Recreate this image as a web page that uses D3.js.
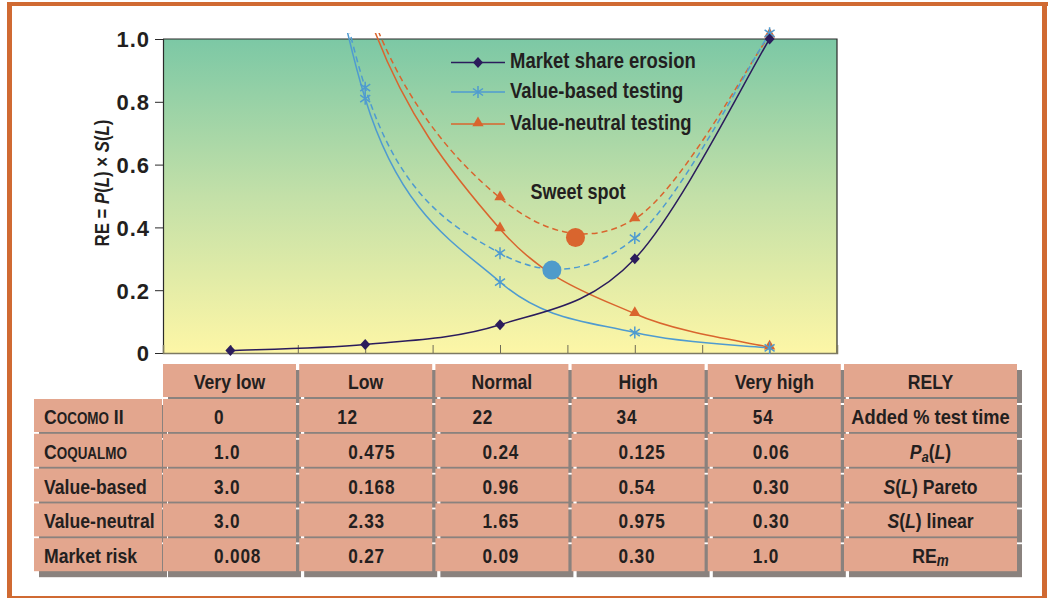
<!DOCTYPE html>
<html><head><meta charset="utf-8">
<script src="https://cdn.jsdelivr.net/npm/d3@7"></script>
<style>body{margin:0;background:#fff}svg{display:block}</style>
</head><body>
<svg id="c" width="1051" height="598"></svg>
<script>
// ---------- data ----------
const categories = ["Very low", "Low", "Normal", "High", "Very high"];
const marketShare = [0.008, 0.027, 0.09, 0.30, 1.0];
const valueBased = [3.0, 0.81, 0.226, 0.065, 0.016];
const valueBasedTotal = [3.008, 0.845, 0.318, 0.366, 1.018];
const valueNeutral = [3.0, 1.11, 0.395, 0.125, 0.018];
const valueNeutralTotal = [3.008, 1.135, 0.494, 0.427, 1.012];
const sweetSpotX = [2.385, 2.56];      // position in category units
const sweetSpotY = [0.264, 0.368];
const yTicks = [0, 0.2, 0.4, 0.6, 0.8, 1.0];
const legendLabels = ["Market share erosion", "Value-based testing", "Value-neutral testing"];
const tableHeader = ["Very low", "Low", "Normal", "High", "Very high", "RELY"];
const rowLabels = ["Cocomo II", "Coqualmo", "Value-based", "Value-neutral", "Market risk"];
const cocomoII = ["0", "12", "22", "34", "54"];
const coqualmo = ["1.0", "0.475", "0.24", "0.125", "0.06"];
const valueBasedS = ["3.0", "0.168", "0.96", "0.54", "0.30"];
const valueNeutralS = ["3.0", "2.33", "1.65", "0.975", "0.30"];
const marketRisk = ["0.008", "0.27", "0.09", "0.30", "1.0"];

// ---------- setup ----------
const F = "'Liberation Sans',Arial,sans-serif";
const SX = 0.84;  // horizontal condensing of the bold sans face
const svg = d3.select("#c");
const NAVY = "#2b1c5c", BLUE = "#4f9bd0", ORANGE = "#d9652e", TXT = "#231f20";
const SALMON = "#e3a68e", SHADOW = "#8a827e", FRAME = "#d06a32";

function T(parent, x0, y0, size, anchor, sx, rot) {
  return parent.append("text")
    .attr("transform", `translate(${x0},${y0})${rot ? ` rotate(${rot})` : ""} scale(${sx || SX},1)`)
    .attr("text-anchor", anchor || "start").attr("font-family", F).attr("font-weight", "bold")
    .attr("font-size", size).attr("fill", TXT);
}

// frame
svg.append("rect").attr("x", 7).attr("y", 2).attr("width", 1041).attr("height", 4).attr("fill", FRAME);
svg.append("rect").attr("x", 7).attr("y", 2).attr("width", 5).attr("height", 596).attr("fill", FRAME);
svg.append("rect").attr("x", 1042).attr("y", 2).attr("width", 5).attr("height", 596).attr("fill", FRAME);
svg.append("rect").attr("x", 7).attr("y", 596).attr("width", 1040).attr("height", 2).attr("fill", FRAME);

const x = d3.scaleLinear().domain([-0.5, 4.5]).range([163, 837]);
const y = d3.scaleLinear().domain([0, 1]).range([353, 39]);

const defs = svg.append("defs");
const g = defs.append("linearGradient").attr("id", "bg").attr("x1", 0).attr("y1", 0).attr("x2", 0).attr("y2", 1);
g.append("stop").attr("offset", "0%").attr("stop-color", "#7cc8a5");
g.append("stop").attr("offset", "50%").attr("stop-color", "#c3e0a8");
g.append("stop").attr("offset", "100%").attr("stop-color", "#fdf6a6");
defs.append("clipPath").attr("id", "clip").append("rect")
  .attr("x", x(-0.5)).attr("y", y(1) - 6).attr("width", x(4.5) - x(-0.5)).attr("height", y(0) - y(1) + 6);

svg.append("rect").attr("x", x(-0.5)).attr("y", y(1)).attr("width", x(4.5) - x(-0.5)).attr("height", y(0) - y(1))
  .attr("fill", "url(#bg)");
svg.append("path").attr("d", `M${x(-0.5)},${y(1)}H${x(4.5)}V${y(0)}`).attr("fill", "none").attr("stroke", "#2a2a2a").attr("stroke-width", 1.2);

// y axis
const ya = svg.append("g").attr("transform", `translate(${x(-0.5)},0)`)
  .call(d3.axisLeft(y).tickValues(yTicks).tickSize(8).tickPadding(5)
    .tickFormat(d => d === 0 ? "0" : d3.format(".1f")(d)));
ya.select(".domain").attr("stroke", "#2a2a2a").attr("stroke-width", 1.2);
ya.selectAll(".tick line").attr("stroke", "#2a2a2a");
ya.selectAll("text").attr("font-family", F).attr("font-weight", "bold").attr("font-size", 22)
  .attr("fill", TXT).attr("letter-spacing", 1).attr("dy", "0.36em");

// x axis (ticks pointing in)
const xt = d3.range(0, 9).map(i => 0.5 * i);
const xa = svg.append("g").attr("transform", `translate(0,${y(0)})`)
  .call(d3.axisBottom(x).tickValues(xt).tickSize(-8).tickFormat(""));
xa.select(".domain").attr("stroke", "#7d7a62").attr("stroke-width", 1.5);
xa.selectAll(".tick line").attr("stroke", "#6e6b58");

// y title
const yt = T(svg, 109, 183, 20, "middle", SX, -90);
[["RE = ", false], ["P", true], ["(", false], ["L", true], [") × ", false], ["S", true], ["(", false], ["L", true], [")", false]]
  .forEach(([t, it]) => yt.append("tspan").text(t).attr("font-style", it ? "italic" : "normal"));

// ---------- lines: smoothed (Catmull-Rom style Bezier through the scaled points) ----------
function smoothPath(vals) {
  const P = vals.map((v, i) => [x(i), y(v)]);
  const n = P.length;
  const m = P.map((p, i) => {
    const a = P[Math.max(0, i - 1)], b = P[Math.min(n - 1, i + 1)];
    return [(b[0] - a[0]) / 2, (b[1] - a[1]) / 2];
  });
  const p = d3.path();
  p.moveTo(P[0][0], P[0][1]);
  for (let i = 0; i < n - 1; i++) {
    // soften the outgoing handle where the previous point lies far off the chart
    const so = (i > 0 && vals[i - 1] > 1.2) ? 0.8 : 1;
    p.bezierCurveTo(P[i][0] + so * m[i][0] / 3, P[i][1] + so * m[i][1] / 3,
      P[i + 1][0] - m[i + 1][0] / 3, P[i + 1][1] - m[i + 1][1] / 3,
      P[i + 1][0], P[i + 1][1]);
  }
  return p.toString();
}
const plot = svg.append("g").attr("clip-path", "url(#clip)");
const series = [
  { v: valueNeutralTotal, c: ORANGE, dash: "6,4", m: "tri" },
  { v: valueBasedTotal, c: BLUE, dash: "6,4", m: "ast" },
  { v: valueNeutral, c: ORANGE, dash: null, m: "tri" },
  { v: valueBased, c: BLUE, dash: null, m: "ast" },
  { v: marketShare, c: NAVY, dash: null, m: "dia" }
];
series.forEach(s => {
  plot.append("path").attr("d", smoothPath(s.v)).attr("fill", "none").attr("stroke", s.c)
    .attr("stroke-width", 1.5).attr("stroke-dasharray", s.dash);
});

function marker(sel, type, c) {
  if (type === "dia") {
    sel.append("path").attr("d", "M0,-5.5L5,0L0,5.5L-5,0Z").attr("fill", c);
  } else if (type === "tri") {
    sel.append("path").attr("d", d3.symbol(d3.symbolTriangle, 55)()).attr("fill", c).attr("transform", "translate(0,-1)");
  } else {
    sel.append("path").attr("d", "M0,-6V6M-5,-3.5L5,3.5M-5,3.5L5,-3.5").attr("stroke", c)
      .attr("stroke-width", 1.5).attr("fill", "none");
  }
}
series.forEach(s => {
  s.v.forEach((v, i) => {
    if (v > 1.05) return;
    marker(svg.append("g").attr("transform", `translate(${x(i)},${y(v)})`), s.m, s.c);
  });
});

// sweet spots
svg.selectAll("circle.sweet").data(sweetSpotX).enter().append("circle").attr("class", "sweet")
  .attr("cx", d => x(d)).attr("cy", (d, i) => y(sweetSpotY[i])).attr("r", 9.5)
  .attr("fill", (d, i) => i === 0 ? "#4f9bcb" : ORANGE);
T(svg, 578, 199, 22, "middle", 0.82).text("Sweet spot");

// legend
const legY = [62.5, 92, 124];
const legC = [NAVY, BLUE, ORANGE], legM = ["dia", "ast", "tri"];
legendLabels.forEach((t, i) => {
  svg.append("line").attr("x1", 451).attr("x2", 505).attr("y1", legY[i]).attr("y2", legY[i])
    .attr("stroke", legC[i]).attr("stroke-width", 1.5);
  marker(svg.append("g").attr("transform", `translate(478,${legY[i]})`), legM[i], legC[i]);
  T(svg, 510, legY[i] + 5.5, 22, "start").text(t);
});

// ---------- table ----------
const colStep = 136.2, colW = 133, lastW = 173;
const colLeft = i => 163 + i * colStep;
const colWidth = i => i === 5 ? lastW : colW;
const headTop = 364, rowH = 33, rowStep = 34.8, rowTop0 = 399;
const rowTop = r => rowTop0 + r * rowStep;
const labelLeft = 34, labelW = 128;
const tbl = svg.append("g");
const shadows = tbl.append("g"), cells = tbl.append("g"), texts = tbl.append("g");
function cell(x0, y0, w, h) {
  shadows.append("rect").attr("x", x0 + 5).attr("y", y0 + 6).attr("width", w).attr("height", h).attr("fill", SHADOW);
  cells.append("rect").attr("x", x0).attr("y", y0).attr("width", w).attr("height", h).attr("fill", SALMON);
}
const TS = 21;
tableHeader.forEach((h, i) => {
  cell(colLeft(i), headTop, colWidth(i), rowH);
  T(texts, colLeft(i) + colWidth(i) / 2, headTop + 25, TS, "middle").text(h);
});
const rows = [cocomoII, coqualmo, valueBasedS, valueNeutralS, marketRisk];
const numOffset = [51, 49, 47, 47, 45];
const firstRowOffset = [51, 38, 37, 45, 45];
rows.forEach((vals, r) => {
  const t = rowTop(r);
  cell(labelLeft, t, labelW, rowH);
  for (let i = 0; i < 6; i++) cell(colLeft(i), t, colWidth(i), rowH);
  const lt = T(texts, 44, t + 25, TS, "start");
  const lab = rowLabels[r];
  if (r <= 1) {
    const word = lab.split(" ")[0].toUpperCase();
    lt.append("tspan").text(word[0]);
    lt.append("tspan").attr("font-size", 16).text(word.slice(1));
    if (r === 0) lt.append("tspan").text(" II");
  } else lt.text(lab);
  vals.forEach((v, i) => {
    const off = r === 0 ? firstRowOffset[i] : numOffset[i];
    T(texts, colLeft(i) + off, t + 25, TS, "start", 0.82).attr("letter-spacing", 1).text(v);
  });
});
const rc = colLeft(5) + lastW / 2;
T(texts, rc, rowTop(0) + 25, TS, "middle", 0.87).text("Added % test time");
const pa = T(texts, rc, rowTop(1) + 25, TS, "middle");
pa.append("tspan").attr("font-style", "italic").text("P");
pa.append("tspan").attr("font-style", "italic").attr("font-size", 15).attr("dy", 3).text("a");
pa.append("tspan").attr("dy", -3).text("(");
pa.append("tspan").attr("font-style", "italic").text("L");
pa.append("tspan").text(")");
[[2, " Pareto"], [3, " linear"]].forEach(([r, w]) => {
  const s = T(texts, rc, rowTop(r) + 25, TS, "middle");
  s.append("tspan").attr("font-style", "italic").text("S");
  s.append("tspan").text("(");
  s.append("tspan").attr("font-style", "italic").text("L");
  s.append("tspan").text(")" + w);
});
const rem = T(texts, rc, rowTop(4) + 25, TS, "middle");
rem.append("tspan").text("RE");
rem.append("tspan").attr("font-style", "italic").attr("font-size", 16).attr("dy", 3).text("m");
</script>
</body></html>
